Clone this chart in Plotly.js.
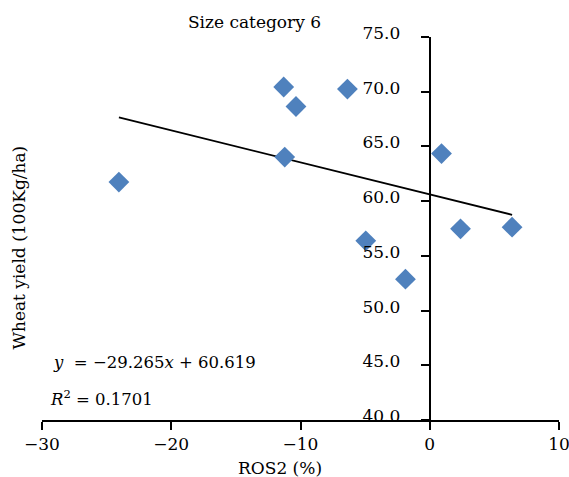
<!DOCTYPE html>
<html>
<head>
<meta charset="utf-8">
<script src="https://cdn.plot.ly/plotly-3.0.1.min.js"></script>
<style>html,body{margin:0;padding:0;background:#fff;}#chart{width:569px;height:477px;}</style>
</head>
<body>
<div id="chart"></div>
<script>
// ROS2 (%) and wheat yield (100 Kg/ha), size category 6
const ros2 = [-24.05, -11.30, -10.35, -6.37, -11.22, 0.91, 2.38, 6.37, -4.95, -1.88];
const wheatYield = [61.74, 70.43, 68.65, 70.24, 64.03, 64.35, 57.47, 57.62, 56.37, 52.87];
// Linear fit from the chart: y = -29.265x + 60.619 (x as fraction)
const slope = -29.265;
const intercept = 60.619;
const rSquared = 0.1701;
const xTicks = [-30, -20, -10, 0, 10];
const yTicks = [40, 45, 50, 55, 60, 65, 70, 75];

const xmin = Math.min(...ros2), xmax = Math.max(...ros2);
const trendX = [xmin, xmax];
const trendY = trendX.map(v => intercept + slope * v / 100);

const serif = 'DejaVu Serif';
const fnt = {family: serif, size: 17, color: '#000'};
const eqFnt = {family: serif, size: 16.5, color: '#000'};

const traces = [
  {x: trendX, y: trendY, mode: 'lines', type: 'scatter',
   line: {color: '#000', width: 1.8}, hoverinfo: 'skip', showlegend: false},
  {x: ros2, y: wheatYield, mode: 'markers', type: 'scatter',
   marker: {symbol: 'diamond', size: 16, color: '#4F81BD', line: {width: 0}},
   showlegend: false}
];

const layout = {
  width: 569, height: 477,
  margin: {l: 42, r: 10, t: 37, b: 57},
  paper_bgcolor: '#fff', plot_bgcolor: '#fff',
  font: fnt,
  showlegend: false,
  title: {text: 'Size category 6', font: fnt,
          xref: 'paper', x: 0.411, xanchor: 'center', yref: 'container', y: 0.954, yanchor: 'middle'},
  xaxis: {range: [-30, 10], tickvals: xTicks, ticktext: xTicks.map(v => v < 0 ? '\u2212' + Math.abs(v) : String(v)),
          showline: true, linecolor: '#000', linewidth: 2, ticks: 'outside', ticklen: 8, tickwidth: 2, tickcolor: '#000',
          showgrid: false, zeroline: false, tickfont: fnt, ticklabeloverflow: 'allow', fixedrange: true},
  yaxis: {range: [40, 75], tickvals: yTicks, tickformat: '.1f', anchor: 'free', position: 0.75,
          showline: true, linecolor: '#000', linewidth: 2, ticks: 'outside', ticklen: 8, tickwidth: 2, tickcolor: '#000',
          showgrid: false, zeroline: false, tickfont: fnt, ticklabelstandoff: 17, ticklabelshift: -4,
          ticklabeloverflow: 'allow', fixedrange: true},
  annotations: [
    {text: 'ROS2 (%)', xref: 'paper', yref: 'paper', x: 0.46, y: -0.125, xanchor: 'center', yanchor: 'middle',
     showarrow: false, font: fnt},
    {text: 'Wheat yield (100Kg/ha)', xref: 'paper', yref: 'paper', x: -0.0435, y: 0.449, textangle: -90,
     xanchor: 'center', yanchor: 'middle', showarrow: false, font: fnt},
    {text: '<i>y</i>  = \u2212' + Math.abs(slope).toFixed(3) + '<i>x</i> + ' + intercept.toFixed(3),
     xref: 'paper', yref: 'paper', x: 0.018, y: 0.149, xanchor: 'left', yanchor: 'middle', showarrow: false, font: eqFnt},
    {text: '<i>R</i><sup>2</sup> = ' + rSquared.toFixed(4),
     xref: 'paper', yref: 'paper', x: 0.012, y: 0.057, xanchor: 'left', yanchor: 'middle', showarrow: false, font: eqFnt}
  ]
};

Plotly.newPlot('chart', traces, layout, {displayModeBar: false, staticPlot: true});
</script>
</body>
</html>
